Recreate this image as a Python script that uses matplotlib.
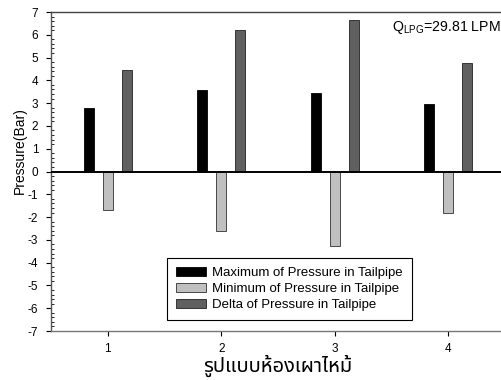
import matplotlib
matplotlib.use("Agg")
import matplotlib.pyplot as plt
import numpy as np
from matplotlib.ticker import MultipleLocator

plt.rcParams['font.family'] = ['Liberation Sans', 'Noto Sans Thai', 'Loma', 'Garuda', 'Tlwg Typo', 'DejaVu Sans']
plt.rcParams['axes.unicode_minus'] = False
plt.rcParams['mathtext.fontset'] = 'custom'
plt.rcParams['mathtext.rm'] = 'Liberation Sans'
plt.rcParams['mathtext.it'] = 'Liberation Sans:italic'

chambers = [1, 2, 3, 4]
max_pressure = [2.77, 3.59, 3.43, 2.95]
min_pressure = [-1.68, -2.62, -3.25, -1.82]
delta_pressure = [4.45, 6.23, 6.67, 4.74]
series_labels = ['Maximum of Pressure in Tailpipe',
                 'Minimum of Pressure in Tailpipe',
                 'Delta of Pressure in Tailpipe']
y_ticks = list(range(-7, 8))

fig = plt.figure(figsize=(5.01, 3.80), dpi=100)
ax = fig.add_axes([51/501, 49/380, 454/501, 319/380])

x = np.array(chambers, dtype=float)
off = 0.167
w = 0.088
ax.bar(x - off, max_pressure, w, color='#000000', edgecolor='#000000', linewidth=0.6,
       label=series_labels[0], zorder=2)
ax.bar(x, min_pressure, w, color='#c0c0c0', edgecolor='#303030', linewidth=0.6,
       label=series_labels[1], zorder=2)
ax.bar(x + off, delta_pressure, w, color='#606060', edgecolor='#202020', linewidth=0.6,
       label=series_labels[2], zorder=2)

ax.axhline(0, color='black', linewidth=1.4, zorder=3)

ax.set_xlim(0.5, 4.5)
ax.set_ylim(-7, 7)
ax.set_xticks(chambers)
ax.set_yticks(y_ticks)
ax.yaxis.set_minor_locator(MultipleLocator(0.2))
ax.tick_params(axis='y', which='major', direction='out', length=3.6, width=0.8,
               labelsize=8.5, pad=5.5)
ax.tick_params(axis='y', which='minor', direction='in', length=2.3, width=0.6)
ax.tick_params(axis='x', which='major', direction='out', length=3.6, width=0.8,
               labelsize=8.5, pad=5)

ax.spines['right'].set_visible(False)
ax.spines['top'].set_color('#444444')
ax.spines['left'].set_color('#555555')
ax.spines['bottom'].set_color('#777777')
for s in ['top', 'left', 'bottom']:
    ax.spines[s].set_linewidth(1.0)

ax.set_ylabel('Pressure(Bar)', fontsize=10)
ax.yaxis.set_label_coords(-0.054, 0.565)
ax.set_xlabel('รูปแบบห้องเผาไหม้', fontsize=14.5, fontweight='bold', labelpad=0)

ax.text(3.5, 6.7, r'Q$_{\mathrm{LPG}}$=29.81 LPM', fontsize=10.2, va='top', ha='left')

leg = ax.legend(loc='lower left', bbox_to_anchor=(0.2555, 0.033), borderaxespad=0,
                fontsize=9.5, handlelength=2.27, handleheight=0.6, labelspacing=0.3,
                handletextpad=0.45, borderpad=0.7,
                fancybox=False, framealpha=1, edgecolor='black')
leg.get_frame().set_linewidth(0.8)

fig.savefig('out.png', dpi=100)
